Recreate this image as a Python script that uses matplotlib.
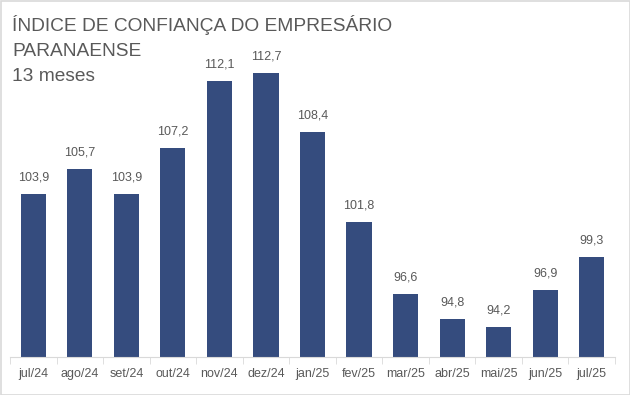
import numpy as np
import matplotlib.pyplot as plt

plt.rcParams['font.family'] = ['Liberation Sans', 'DejaVu Sans']

# dados
meses = ['jul/24', 'ago/24', 'set/24', 'out/24', 'nov/24', 'dez/24', 'jan/25',
         'fev/25', 'mar/25', 'abr/25', 'mai/25', 'jun/25', 'jul/25']
indice = [103.9, 105.7, 103.9, 107.2, 112.1, 112.7, 108.4,
          101.8, 96.6, 94.8, 94.2, 96.9, 99.3]

bar_color = '#354C7E'
txt_color = '#595959'

fig = plt.figure(figsize=(6.3, 3.95), dpi=100)
ax = fig.add_axes([10 / 630, 38 / 395, 605 / 630, 342 / 395])

x = np.arange(len(meses))
bars = ax.bar(x, indice, width=0.54, color=bar_color, zorder=2)
ax.set_xlim(-0.5, len(meses) - 0.5)
ax.set_ylim(92, 116.9)

for b, v in zip(bars, indice):
    ax.annotate(f'{v:.1f}'.replace('.', ','), (b.get_x() + b.get_width() / 2, v),
                xytext=(0, 7.5), textcoords='offset points', ha='center', va='bottom',
                fontsize=9, color=txt_color)

ax.set_xticks(x)
ax.set_xticklabels(meses, fontsize=9, color=txt_color)
ax.tick_params(axis='x', length=0, pad=8)
ax.set_xticks(np.arange(-0.5, len(meses)), minor=True)
ax.tick_params(axis='x', which='minor', length=5, color='#d9d9d9')
ax.set_yticks([])
for s in ['top', 'right', 'left']:
    ax.spines[s].set_visible(False)
ax.spines['bottom'].set_color('#d9d9d9')

fig.text(12 / 630, 1 - 31 / 395, 'ÍNDICE DE CONFIANÇA DO EMPRESÁRIO',
         fontsize=13.8, color=txt_color)
fig.text(12 / 630, 1 - 56 / 395, 'PARANAENSE', fontsize=13.8, color=txt_color)
fig.text(12 / 630, 1 - 81 / 395, '13 meses', fontsize=13.8, color=txt_color)

# moldura
fig.add_artist(plt.Rectangle((0.5 / 630, 0.5 / 395), 629 / 630, 394 / 395,
                             transform=fig.transFigure, fill=False,
                             edgecolor='#d9d9d9', linewidth=1.2))

fig.savefig('out.png', dpi=100)
